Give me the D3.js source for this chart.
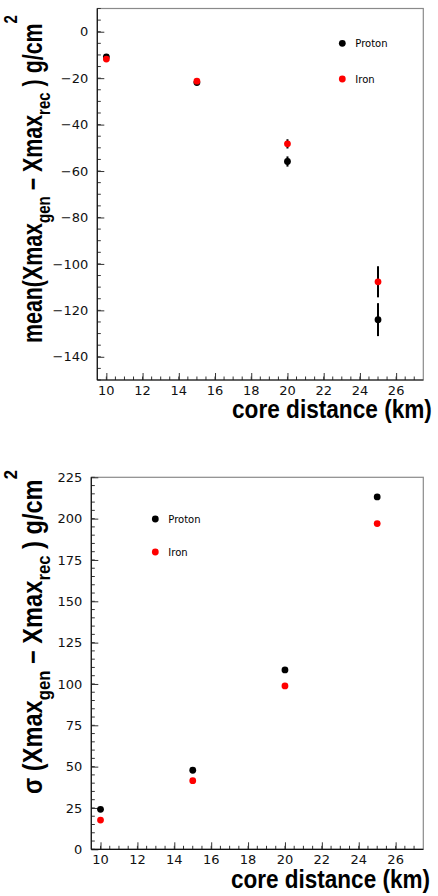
<!DOCTYPE html>
<html>
<head>
<meta charset="utf-8">
<script src="https://cdn.jsdelivr.net/npm/d3@7"></script>
<style>
  html, body { margin: 0; padding: 0; background: #fff; }
  svg { display: block; }
</style>
</head>
<body>
<svg id="chart" width="438" height="896"></svg>
<script>
// Core distances (km) of the simulated showers
const distances = [10, 15, 20, 25];

// Mean of Xmax_gen - Xmax_rec (g/cm^2) with its uncertainty
const meanProton    = [-10.8, -21.9, -55.9, -124.0];
const meanProtonErr = [0.6, 0.9, 2.2, 7.1];
const meanIron      = [-11.8, -21.3, -48.3, -107.7];
const meanIronErr   = [0.6, 0.9, 2.0, 6.7];

// Spread (sigma) of Xmax_gen - Xmax_rec (g/cm^2)
const sigmaProton = [24.2, 47.8, 108.5, 213.1];
const sigmaIron   = [17.7, 41.5, 98.8, 197.0];

// Axis ticks
const xTicks      = [10, 12, 14, 16, 18, 20, 22, 24, 26];
const meanYTicks  = [0, -20, -40, -60, -80, -100, -120, -140];
const sigmaYTicks = [0, 25, 50, 75, 100, 125, 150, 175, 200, 225];

const seriesNames  = ["Proton", "Iron"];
const seriesColors = ["#000000", "#ff0000"];

const svg = d3.select("#chart");
const tickFont  = "'DejaVu Sans', sans-serif";
const titleFont = "'Liberation Sans', Arial, sans-serif";

function drawPanel(opt) {
  const g = svg.append("g");
  const x = d3.scaleLinear().domain([9.5, 27.5]).range([opt.left, opt.right]);
  const y = d3.scaleLinear().domain(opt.yDomain).range([opt.bottom, opt.top]);

  // frame
  g.append("rect")
    .attr("x", opt.left).attr("y", opt.top)
    .attr("width", opt.right - opt.left).attr("height", opt.bottom - opt.top)
    .attr("fill", "none").attr("stroke", "#8a8a8a").attr("stroke-width", 1.2);

  // y axis: ticks point into the frame
  const yMinor = d3.range(opt.yDomain[0], opt.yDomain[1] + 0.001, 5);
  g.selectAll(".ymin").data(yMinor).join("line")
    .attr("x1", opt.left).attr("x2", opt.left + 3.5)
    .attr("y1", d => y(d)).attr("y2", d => y(d))
    .attr("stroke", "#333").attr("stroke-width", 1);
  const yAxis = d3.axisRight(y).tickValues(opt.yTicks).tickSize(7).tickFormat("");
  g.append("g").attr("transform", `translate(${opt.left},0)`).call(yAxis)
    .call(s => s.select(".domain").remove())
    .call(s => s.selectAll("line").attr("stroke", "#333"));
  g.selectAll(".ylab").data(opt.yTicks).join("text")
    .attr("x", opt.left - 9).attr("y", d => y(d) + 4.6)
    .attr("text-anchor", "end")
    .attr("font-family", tickFont).attr("font-size", 13).attr("fill", "#111")
    .text(d => d3.format("d")(d));

  // x axis: ticks point into the frame
  const xMinor = d3.range(10, 27.5, 0.5);
  g.selectAll(".xmin").data(xMinor).join("line")
    .attr("x1", d => x(d)).attr("x2", d => x(d))
    .attr("y1", opt.bottom).attr("y2", opt.bottom - 3.5)
    .attr("stroke", "#333").attr("stroke-width", 1);
  const xAxis = d3.axisTop(x).tickValues(xTicks).tickSize(7).tickFormat("");
  g.append("g").attr("transform", `translate(0,${opt.bottom})`).call(xAxis)
    .call(s => s.select(".domain").remove())
    .call(s => s.selectAll("line").attr("stroke", "#333"));
  g.selectAll(".xlab").data(xTicks).join("text")
    .attr("x", d => x(d)).attr("y", opt.bottom + 15)
    .attr("text-anchor", "middle")
    .attr("font-family", tickFont).attr("font-size", 13).attr("fill", "#111")
    .text(d => d);

  // axis lines
  g.append("line").attr("x1", opt.left).attr("x2", opt.left)
    .attr("y1", opt.top).attr("y2", opt.bottom).attr("stroke", "#111").attr("stroke-width", 1.2);
  g.append("line").attr("x1", opt.left).attr("x2", opt.right)
    .attr("y1", opt.bottom).attr("y2", opt.bottom).attr("stroke", "#111").attr("stroke-width", 1.2);

  // data: error bars first, markers on top
  opt.series.forEach((s, si) => {
    const pts = distances.map((d, i) => ({ x: d, v: s.values[i], e: s.errors ? s.errors[i] : 0 }));
    g.selectAll(null).data(pts.filter(p => p.e > 0)).join("line")
      .attr("x1", p => x(p.x)).attr("x2", p => x(p.x))
      .attr("y1", p => y(p.v - p.e)).attr("y2", p => y(p.v + p.e))
      .attr("stroke", "#000").attr("stroke-width", 2);
    g.selectAll(null).data(pts).join("circle")
      .attr("cx", p => x(p.x)).attr("cy", p => y(p.v)).attr("r", 3.4)
      .attr("fill", seriesColors[si]);
  });

  // legend
  seriesNames.forEach((name, i) => {
    const ly = opt.legendY + i * opt.legendGap;
    g.append("circle").attr("cx", opt.legendX).attr("cy", ly).attr("r", 3.4).attr("fill", seriesColors[i]);
    g.append("text").attr("x", opt.legendX + 13).attr("y", ly + 3.6)
      .attr("font-family", tickFont).attr("font-size", 10).attr("fill", "#000").text(name);
  });

  // x title, fitted into its span
  const xt = g.append("g");
  const xtText = xt.append("text")
    .attr("font-family", titleFont).attr("font-weight", "bold").attr("font-size", 24)
    .attr("fill", "#000").text("core distance (km)");
  const xw = xtText.node().getComputedTextLength();
  xt.attr("transform", `translate(${opt.xTitle.x0},${opt.xTitle.y}) scale(${opt.xTitle.len / xw},1.04)`);

  // y title (rotated), fitted into its span
  const yt = g.append("g");
  const t = yt.append("text")
    .attr("font-family", titleFont).attr("font-weight", "bold").attr("font-size", 27).attr("fill", "#000");
  t.append("tspan").text(opt.yLead + "Xmax");
  t.append("tspan").attr("dy", 8).attr("font-size", 19).text("gen");
  t.append("tspan").attr("dy", -8).text(" \u2212 Xmax");
  t.append("tspan").attr("dy", 8).attr("font-size", 19).text("rec");
  t.append("tspan").attr("dy", -8).text("  ) g/cm");
  t.append("tspan").attr("dy", -25).attr("font-size", 19).text("2");
  const bb = t.node().getBBox();
  const sx = opt.yTitle.len / bb.width;
  yt.attr("transform",
    `translate(${opt.yTitle.x},${opt.yTitle.y0}) rotate(-90) scale(${sx},1)`);
}

drawPanel({
  left: 97.3, right: 423.3, top: 8.5, bottom: 380,
  yDomain: [-150, 10], yTicks: meanYTicks,
  series: [
    { values: meanProton, errors: meanProtonErr },
    { values: meanIron, errors: meanIronErr }
  ],
  legendX: 342.3, legendY: 43.3, legendGap: 35.7,
  xTitle: { x0: 232, y: 418, len: 200 },
  yTitle: { x: 42, y0: 343, len: 328 },
  yLead: "mean("
});

drawPanel({
  left: 91.3, right: 423.3, top: 477.3, bottom: 849.3,
  yDomain: [0, 225], yTicks: sigmaYTicks,
  series: [
    { values: sigmaProton },
    { values: sigmaIron }
  ],
  legendX: 155.3, legendY: 519, legendGap: 33,
  xTitle: { x0: 231, y: 888, len: 199 },
  yTitle: { x: 42, y0: 794, len: 324 },
  yLead: "\u03c3 ("
});
</script>
</body>
</html>
